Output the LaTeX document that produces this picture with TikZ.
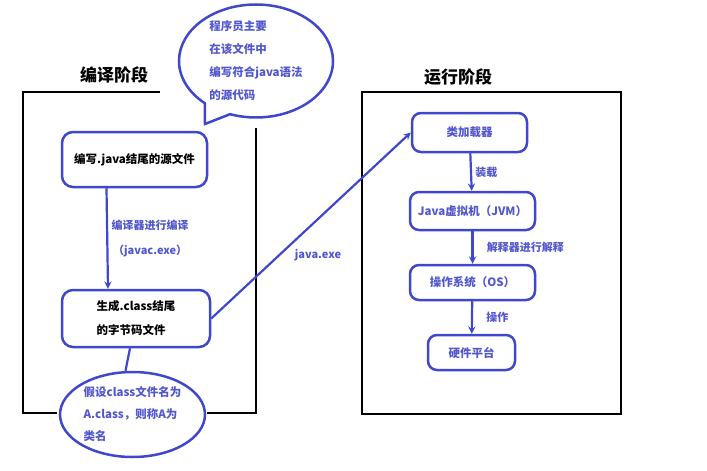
\documentclass[tikz,border=0pt]{standalone}
\usepackage{fontspec}
\setmainfont{Noto Sans CJK SC}
\usetikzlibrary{shapes.geometric,shapes.callouts}
\definecolor{penblue}{RGB}{63,72,204}
\definecolor{inkblue}{RGB}{82,88,204}

\begin{document}
\begin{tikzpicture}[x=1pt,y=-1pt,>=stealth,thick,
       main node/.style={draw=penblue,line width=2.5pt,rounded corners=11pt,inner sep=2pt,
         font=\bfseries\fontsize{11.5}{24}\selectfont,align=left},
       run node/.style={main node,text=inkblue,rounded corners=9pt},
       frame line/.style={draw=black,line width=2.8pt},
       flow/.style={draw=penblue,line width=2.2pt,->},
       pen line/.style={draw=penblue,line width=2.2pt},
       blue label/.style={text=inkblue,font=\bfseries\fontsize{11}{25}\selectfont,align=center},
       stage title/.style={font=\bfseries\fontsize{17}{20}\selectfont}]

      \useasboundingbox (0,0) rectangle (707,471);

      % frames of the two stages
      \draw[frame line] (160,92) -- (23,92) -- (23,413) -- (57,413);
      \draw[frame line] (207,413) -- (256,413) -- (256,128);
      \draw[frame line] (362,92) rectangle (621,414);
      \node[stage title] at (114,75) (t1) {编译阶段};
      \node[stage title] at (458,77) (t2) {运行阶段};

      % compile stage
      \node[main node,minimum width=145pt,minimum height=55pt] at (134.5,159.5) (src) {编写.java结尾的源文件};
      \node[main node,minimum width=148pt,minimum height=57pt] at (136,318.5) (cls) {生成.class结尾\\的字节码文件};
      \node[ellipse,draw=penblue,line width=2.5pt,minimum width=145pt,minimum height=85pt,
            inner xsep=-6pt,inner ysep=0pt,text=inkblue,align=left,
            font=\bfseries\fontsize{11.5}{22}\selectfont] at (132.5,414.5) (cname)
            {假设class文件名为\\A.class，则称A为\\类名};
      \node[ellipse callout,draw=penblue,line width=2.5pt,fill=white,
            callout absolute pointer={(205,124)},callout pointer arc=22,
            minimum width=154pt,minimum height=113pt,inner xsep=0pt,inner ysep=-2pt,
            text=inkblue,align=left,font=\bfseries\fontsize{11.5}{23}\selectfont]
            at (256,61) (memo) {程序员主要\\在该文件中\\编写符合java语法\\的源代码};

      % run stage
      \node[run node,minimum width=115pt,minimum height=39pt] at (469.5,132.5) (loader) {类加载器};
      \node[run node,minimum width=125pt,minimum height=38pt] at (472.5,211) (jvm) {Java虚拟机（JVM）};
      \node[run node,minimum width=125pt,minimum height=35pt] at (472.5,282.5) (os) {操作系统（OS）};
      \node[run node,minimum width=87pt,minimum height=35pt] at (471.5,352.5) (hw) {硬件平台};

      \path
      ([xshift=-28pt]src.south) edge[flow] node[blue label,right] {编译器进行编译\\（javac.exe）} ([xshift=-28pt]cls.north)
      ([xshift=-6pt]cls.south) edge[pen line] ([xshift=-7pt]cname.north)
      (cls.east) edge[flow] node[blue label,xshift=7pt,yshift=-30pt] {java.exe} (loader.west)
      ;
      \path
      (loader) edge[flow] node[blue label,right] {装载} (jvm)
      (jvm) edge[flow] node[blue label,right,xshift=10pt] {解释器进行解释} (os)
      (os) edge[flow] node[blue label,right,xshift=10pt] {操作} (hw)
      ;

    \end{tikzpicture}
\end{document}
